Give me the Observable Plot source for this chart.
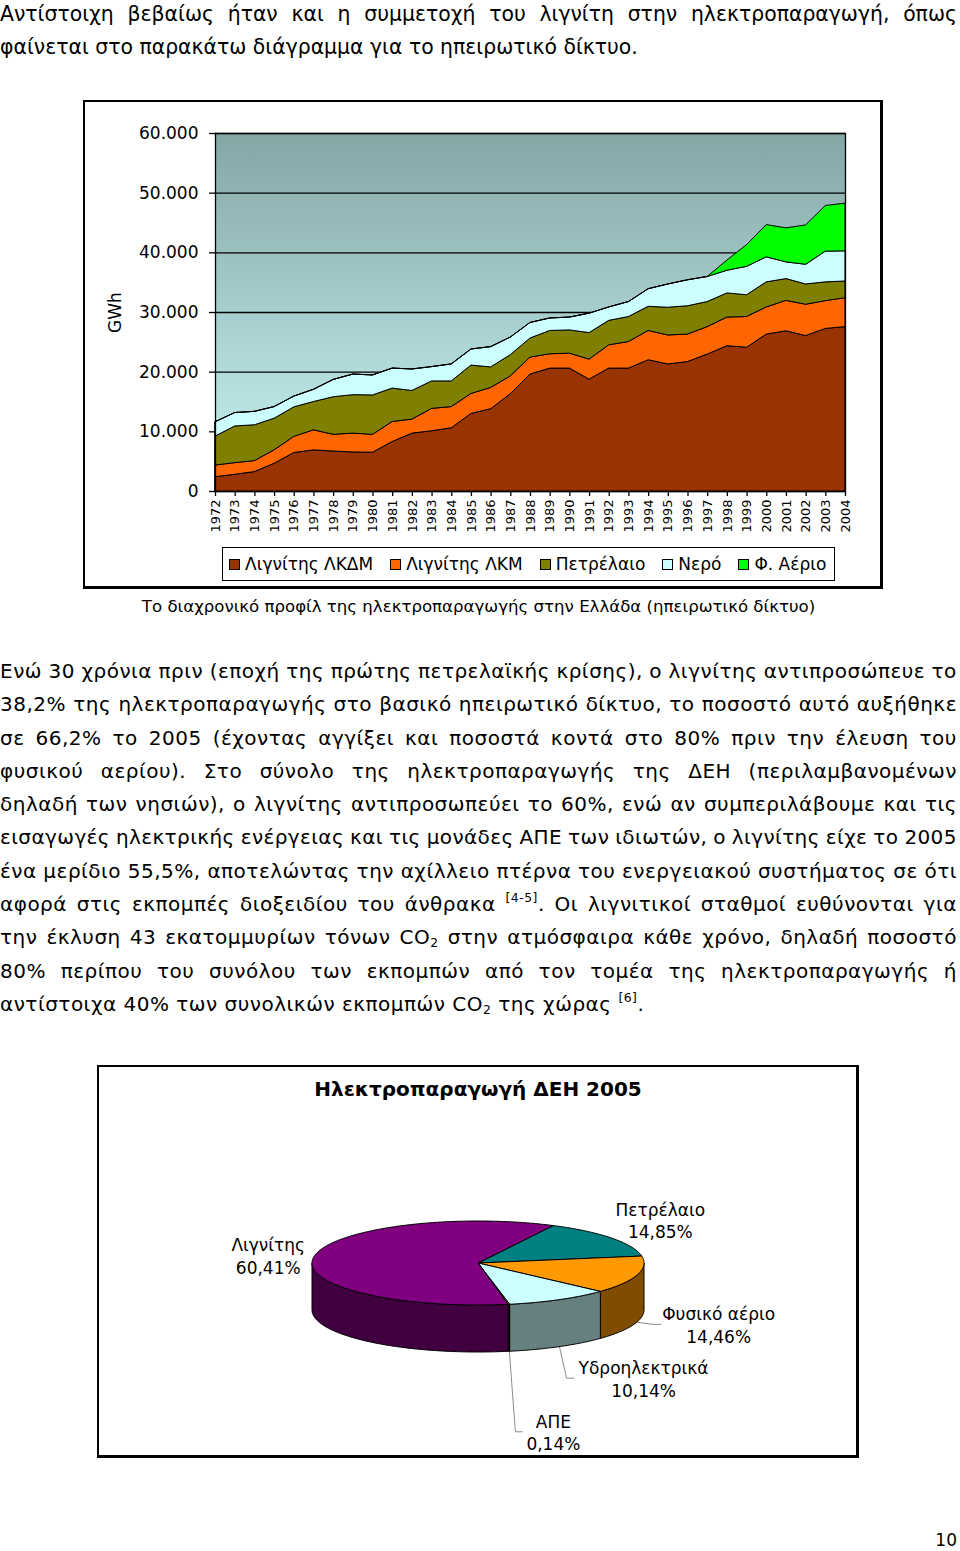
<!DOCTYPE html>
<html><head><meta charset="utf-8">
<script src="https://cdn.jsdelivr.net/npm/d3@7"></script>
<script src="https://cdn.jsdelivr.net/npm/@observablehq/plot@0.6"></script>
<style>
body{margin:0;background:#fff;}
#page{position:relative;width:960px;height:1551px;overflow:hidden;font-family:"DejaVu Sans",Verdana,sans-serif;color:#000;}
.abs{position:absolute;}
.jl{display:flex;justify-content:space-between;white-space:nowrap;}
.ll{white-space:nowrap;}
.para sup,.para sub{font-size:0.62em;line-height:0;}
.para sup{vertical-align:0.7em;}
.para sub{vertical-align:-0.25em;}
.frame{border-top:2px solid #000;border-left:2px solid #000;border-right:3px solid #000;border-bottom:3px solid #000;box-sizing:border-box;}
.legend{border:1px solid #000;box-sizing:border-box;display:flex;align-items:center;font-size:17px;white-space:nowrap;}
.legend .it{display:flex;align-items:center;margin-right:17px;}
.legend .sw{width:11px;height:11px;border:1px solid #000;margin-right:5px;box-sizing:border-box;}
</style></head>
<body><div id="page">

<div id="p1" class="abs para" style="left:0;top:-2px;width:957px;font-size:20.4px;line-height:33px;"></div>

<div class="abs frame" style="left:83px;top:100px;width:800px;height:489px;"></div>
<div id="areaChart" class="abs" style="left:100px;top:100px;"></div>
<div id="legend" class="abs legend" style="left:222px;top:547px;width:613px;height:34px;padding-left:6px;"></div>
<div class="abs" style="left:0;top:597px;width:957px;text-align:center;font-size:16.6px;">Το διαχρονικό προφίλ της ηλεκτροπαραγωγής στην Ελλάδα (ηπειρωτικό δίκτυο)</div>

<div id="p2" class="abs para" style="left:0;top:655px;width:957px;font-size:20px;line-height:33.3px;letter-spacing:0.5px;"></div>

<div class="abs frame" style="left:97px;top:1065px;width:762px;height:393px;"></div>
<div class="abs" style="left:97px;top:1077px;width:762px;text-align:center;font-size:20px;font-weight:bold;">Ηλεκτροπαραγωγή ΔΕΗ 2005</div>
<div id="pieChart" class="abs" style="left:97px;top:1065px;"></div>

<div class="abs" style="left:900px;top:1530px;width:57px;text-align:right;font-size:17px;">10</div>
</div>

<script>
// ---------- DATA ----------
const years = [1972,1973,1974,1975,1976,1977,1978,1979,1980,1981,1982,1983,1984,1985,1986,1987,1988,1989,1990,1991,1992,1993,1994,1995,1996,1997,1998,1999,2000,2001,2002,2003,2004];
const seriesNames = ["Λιγνίτης ΛΚΔΜ","Λιγνίτης ΛΚΜ","Πετρέλαιο","Νερό","Φ. Αέριο"];
const lkdm  = [2400,2800,3250,4650,6450,6900,6700,6550,6500,8300,9700,10100,10600,13000,13800,16300,19600,20600,20600,18750,20600,20600,22000,21300,21700,22950,24350,24100,26300,26850,26050,27250,27550];
const lkm   = [1950,1950,1850,2250,2700,3350,2800,3150,3000,3350,2350,3750,3550,3350,3550,3000,2850,2400,2500,3350,3900,4450,4900,4850,4600,4600,4800,5150,4550,5100,5250,4650,4850];
const oil   = [4850,6150,6000,5300,4950,4750,6300,6450,6600,5600,4800,4600,4300,4750,3450,3550,3200,3900,3900,4450,4100,4200,4050,4650,4750,4200,4050,3650,4200,3650,3400,3150,2800];
const water = [2400,2250,2250,1950,1800,2050,2900,3450,3350,3350,3600,2400,2850,2700,3400,2950,2600,2100,2150,3250,2250,2500,2950,3900,4350,4200,3800,4750,4200,2800,3300,5150,5050];
const gas   = [0,0,0,0,0,0,0,0,0,0,0,0,0,0,0,0,0,0,0,0,0,0,0,0,0,0,1700,3650,5400,5700,6600,7650,8000];
const yTicks = [0,10000,20000,30000,40000,50000,60000];
const seriesColors = ["#993300","#FF6600","#808000","#CCFFFF","#00FF00"];

const pieNames  = ["Πετρέλαιο","Φυσικό αέριο","Υδροηλεκτρικά","ΑΠΕ","Λιγνίτης"];
const pieValues = [14.85,14.46,10.14,0.14,60.41];
const pieText   = ["14,85%","14,46%","10,14%","0,14%","60,41%"];
const pieTop    = ["#008080","#FF9900","#CCFFFF","#99CC00","#800080"];
const pieSide   = ["#004040","#7F4C00","#668080","#4C6600","#400040"];

// ---------- TEXT ----------
const p1Lines = [
  "Αντίστοιχη βεβαίως ήταν και η συμμετοχή του λιγνίτη στην ηλεκτροπαραγωγή, όπως",
  "φαίνεται στο παρακάτω διάγραμμα για το ηπειρωτικό δίκτυο."
];
const p2Lines = [
  "Ενώ 30 χρόνια πριν (εποχή της πρώτης πετρελαϊκής κρίσης), ο λιγνίτης αντιπροσώπευε το",
  "38,2% της ηλεκτροπαραγωγής στο βασικό ηπειρωτικό δίκτυο, το ποσοστό αυτό αυξήθηκε",
  "σε 66,2% το 2005 (έχοντας αγγίξει και ποσοστά κοντά στο 80% πριν την έλευση του",
  "φυσικού αερίου). Στο σύνολο της ηλεκτροπαραγωγής της ΔΕΗ (περιλαμβανομένων",
  "δηλαδή των νησιών), ο λιγνίτης αντιπροσωπεύει το 60%, ενώ αν συμπεριλάβουμε και τις",
  "εισαγωγές ηλεκτρικής ενέργειας και τις μονάδες ΑΠΕ των ιδιωτών, ο λιγνίτης είχε το 2005",
  "ένα μερίδιο 55,5%, αποτελώντας την αχίλλειο πτέρνα του ενεργειακού συστήματος σε ότι",
  "αφορά στις εκπομπές διοξειδίου του άνθρακα <sup>[4-5]</sup>. Οι λιγνιτικοί σταθμοί ευθύνονται για",
  "την έκλυση 43 εκατομμυρίων τόνων CO<sub>2</sub> στην ατμόσφαιρα κάθε χρόνο, δηλαδή ποσοστό",
  "80% περίπου του συνόλου των εκπομπών από τον τομέα της ηλεκτροπαραγωγής ή",
  "αντίστοιχα 40% των συνολικών εκπομπών CO<sub>2</sub> της χώρας <sup>[6]</sup>."
];

function buildPara(el, lines) {
  const W = el.clientWidth;
  const base = parseFloat(el.style.fontSize);
  const ls0 = parseFloat(el.style.letterSpacing) || 0;
  lines.forEach((ln, i) => {
    const d = document.createElement("div");
    el.appendChild(d);
    if (i < lines.length - 1) {
      d.className = "jl";
      const words = ln.split(" ");
      words.forEach(w => { const s = document.createElement("span"); s.innerHTML = w; d.appendChild(s); });
      // if the words plus ordinary spaces overflow, tighten letters of this line only
      const spans = [...d.children];
      const wsum = d3.sum(spans, s => s.getBoundingClientRect().width);
      const need = wsum + (spans.length - 1) * base * 0.3;
      if (need > W) {
        const chars = d3.sum(spans, s => s.textContent.length);
        d.style.letterSpacing = (ls0 + (W - need) / chars).toFixed(3) + "px";
      }
    } else {
      d.className = "ll";
      d.innerHTML = ln;
    }
  });
}
buildPara(document.getElementById("p1"), p1Lines);
buildPara(document.getElementById("p2"), p2Lines);

// ---------- AREA CHART ----------
const rows = [];
[lkdm, lkm, oil, water, gas].forEach((arr, i) =>
  arr.forEach((v, j) => rows.push({year: years[j], series: seriesNames[i], value: v})));

const gradDefs = () => {
  const g = d3.create("svg:g");
  const lg = g.append("defs").append("linearGradient").attr("id", "bgGrad")
    .attr("x1", 0).attr("y1", 0).attr("x2", 0).attr("y2", 1);
  lg.append("stop").attr("offset", "0%").attr("stop-color", "#86a6a6");
  lg.append("stop").attr("offset", "100%").attr("stop-color", "#c8f5f5");
  return g.node();
};
const fmtY = d => d === 0 ? "0" : d3.format(",")(d).replace(/,/g, ".");

const area = Plot.plot({
  width: 780, height: 440,
  marginLeft: 115, marginTop: 33, marginRight: 35, marginBottom: 49,
  style: {fontFamily: "'DejaVu Sans', Verdana, sans-serif", background: "transparent", color: "#000", overflow: "visible"},
  x: {domain: [1972, 2004]},
  y: {domain: [0, 60000]},
  color: {domain: seriesNames, range: seriesColors},
  marks: [
    gradDefs,
    Plot.frame({fill: "url(#bgGrad)"}),
    Plot.ruleY(yTicks, {stroke: "#000", strokeWidth: 1.3}),
    Plot.areaY(rows, {x: "year", y: "value", fill: "series", stroke: "#000", strokeWidth: 1, strokeLinejoin: "round"}),
    Plot.frame({stroke: "#000", strokeWidth: 1.3}),
    Plot.axisY({ticks: yTicks, tickFormat: fmtY, tickSize: 6, tickPadding: 11, fontSize: 17, label: null, stroke: "#000", strokeWidth: 1.3}),
    Plot.axisX({ticks: years, tickFormat: d => String(d), tickRotate: -90, tickSize: 5, tickPadding: 3, fontSize: 13, label: null, stroke: "#000", strokeWidth: 1.3}),
    Plot.text(["GWh"], {frameAnchor: "left", dx: -100, rotate: -90, fontSize: 17, textAnchor: "middle"})
  ]
});
document.getElementById("areaChart").appendChild(area);

// legend
const leg = document.getElementById("legend");
seriesNames.forEach((n, i) => {
  const it = document.createElement("div"); it.className = "it";
  const sw = document.createElement("div"); sw.className = "sw"; sw.style.background = seriesColors[i];
  const tx = document.createElement("span"); tx.textContent = n;
  it.appendChild(sw); it.appendChild(tx); leg.appendChild(it);
});

// ---------- 3D PIE ----------
const P = {cx: 381, cy: 198, rx: 166, ry: 42, depth: 47, start: 27 * Math.PI / 180};
const arcs = d3.pie().sort(null).startAngle(P.start).endAngle(P.start + 2 * Math.PI)(pieValues);
const ex = a => P.cx + P.rx * Math.sin(a);
const ey = a => P.cy - P.ry * Math.cos(a);
function arcPts(a0, a1, dy) {
  const n = Math.max(2, Math.ceil(Math.abs(a1 - a0) * 60));
  return d3.range(n + 1).map(k => { const a = a0 + (a1 - a0) * k / n; return [ex(a), ey(a) + dy]; });
}
const pieMark = () => {
  const g = d3.create("svg:g").attr("stroke", "#000").attr("stroke-width", 1).attr("stroke-linejoin", "round");
  arcs.forEach((a, i) => {
    [0, 2 * Math.PI].forEach(off => {
      const s = Math.max(a.startAngle, Math.PI / 2 + off), e = Math.min(a.endAngle, 3 * Math.PI / 2 + off);
      if (e > s) {
        const top = arcPts(s, e, 0), bot = arcPts(e, s, P.depth);
        g.append("path").attr("fill", pieSide[i]).attr("d", "M" + top.concat(bot).map(p => p.join(",")).join("L") + "Z");
      }
    });
  });
  arcs.forEach((a, i) => {
    const pts = [[P.cx, P.cy]].concat(arcPts(a.startAngle, a.endAngle, 0));
    g.append("path").attr("fill", pieTop[i]).attr("d", "M" + pts.map(p => p.join(",")).join("L") + "Z");
  });
  return g.node();
};

// label placement: offsets from the slice's rim point at mid-angle (layout, not data)
const labelOffset = [[48, -19], [81, 49], [84, 78], [44, 127], [-46, -2]];
const leaderLen = [0, 58, 70, 31, 0];
const labels = arcs.map((a, i) => {
  const m = (a.startAngle + a.endAngle) / 2;
  return {name: pieNames[i], pct: pieText[i], m, x: ex(m) + labelOffset[i][0], y: ey(m) + labelOffset[i][1]};
});
const leaders = [];
labels.forEach((l, i) => {
  if (!leaderLen[i]) return;
  const endX = l.x - leaderLen[i], endY = l.y;
  leaders.push({id: i, x: ex(l.m), y: ey(l.m) + P.depth});
  leaders.push({id: i, x: endX - 7, y: endY});
  leaders.push({id: i, x: endX, y: endY});
});

const pie = Plot.plot({
  width: 760, height: 392, margin: 0,
  style: {fontFamily: "'DejaVu Sans', Verdana, sans-serif", background: "transparent", color: "#000", overflow: "visible"},
  x: {type: "identity", axis: null}, y: {type: "identity", axis: null},
  marks: [
    Plot.line(leaders, {x: "x", y: "y", z: "id", stroke: "#8c8c8c", strokeWidth: 1}),
    pieMark,
    Plot.text(labels, {x: "x", y: "y", text: d => d.name + "\n" + d.pct, fontSize: 17, lineHeight: 1.33, textAnchor: "middle", fill: "#000"})
  ]
});
document.getElementById("pieChart").appendChild(pie);
</script>
</body></html>
